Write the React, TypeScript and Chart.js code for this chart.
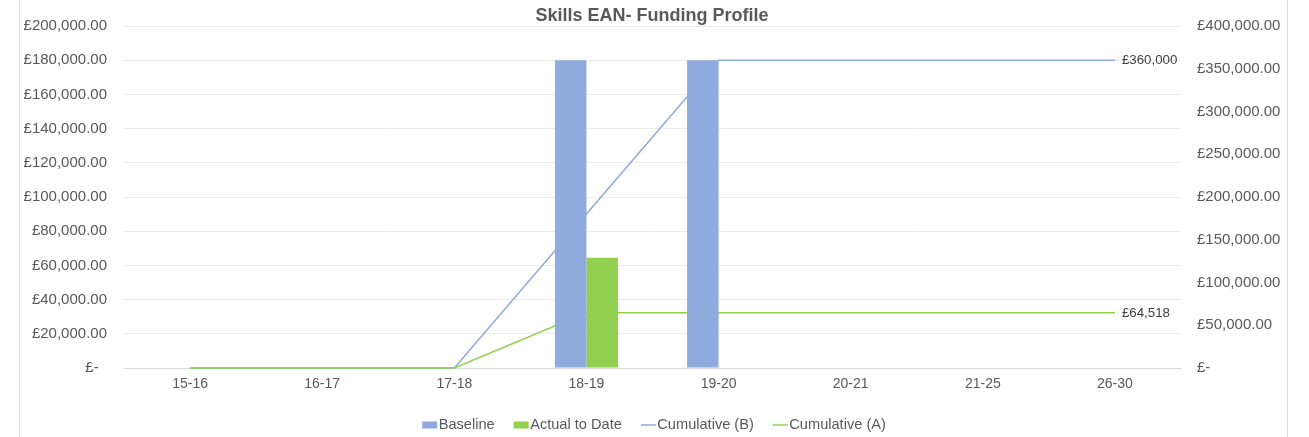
import React, { useEffect, useRef } from "react";
import { Chart, registerables } from "chart.js";

Chart.register(...registerables);

const categories = ["15-16", "16-17", "17-18", "18-19", "19-20", "20-21", "21-25", "26-30"];
const baseline = [null, null, null, 180000, 180000, null, null, null];
const actualToDate = [null, null, null, 64518, null, null, null, null];
const cumulativeB = [0, 0, 0, 180000, 360000, 360000, 360000, 360000];
const cumulativeA = [0, 0, 0, 64518, 64518, 64518, 64518, 64518];
const endLabels = ["£360,000", "£64,518"];
const titleText = "Skills EAN- Funding Profile";

const BLUE = "#8FAADC";
const GREEN = "#92D050";
const TEXT = "#595959";
const FONT = "'Liberation Sans', Arial, sans-serif";

const fmt = (v: number) =>
  v === 0
    ? "£-  "
    : "£" + v.toLocaleString("en-GB", { minimumFractionDigits: 2, maximumFractionDigits: 2 });

const decorPlugin = {
  id: "decor",
  beforeDraw(chart: any) {
    const { ctx, width, height } = chart;
    ctx.save();
    ctx.fillStyle = "#ffffff";
    ctx.fillRect(0, 0, width, height);
    ctx.strokeStyle = "#d9d9d9";
    ctx.lineWidth = 1;
    ctx.strokeRect(19.5, -1, 1268, height + 2);
    ctx.restore();
  },
  afterDraw(chart: any) {
    const { ctx } = chart;
    ctx.save();
    // title
    ctx.font = `bold 18px ${FONT}`;
    ctx.fillStyle = TEXT;
    ctx.textAlign = "center";
    ctx.textBaseline = "alphabetic";
    ctx.fillText(titleText, 652, 21);

    // end labels for line datasets
    ctx.font = `13.3px ${FONT}`;
    ctx.fillStyle = "#404040";
    ctx.textAlign = "left";
    ctx.textBaseline = "middle";
    [2, 3].forEach((di, k) => {
      const meta = chart.getDatasetMeta(di);
      const pt = meta.data[meta.data.length - 1];
      if (pt) ctx.fillText(endLabels[k], pt.x + 7, pt.y);
    });

    // legend
    ctx.font = `14.6px ${FONT}`;
    ctx.textBaseline = "middle";
    const items = chart.data.datasets.map((d: any) => ({
      label: d.label,
      color: d.borderColor,
      kind: d.type === "line" ? "line" : "box",
    }));
    const boxW = 15;
    const gap = 1.5;
    const spacing = 19;
    const widths = items.map((it: any) => boxW + gap + ctx.measureText(it.label).width);
    const total = widths.reduce((a: number, b: number) => a + b, 0) + spacing * (items.length - 1);
    let x = 654 - total / 2;
    const y = 425;
    items.forEach((it: any, i: number) => {
      if (it.kind === "box") {
        ctx.fillStyle = it.color;
        ctx.fillRect(x, y - 3.5, boxW, 7);
      } else {
        ctx.strokeStyle = it.color;
        ctx.lineWidth = 1.5;
        ctx.beginPath();
        ctx.moveTo(x, y);
        ctx.lineTo(x + boxW, y);
        ctx.stroke();
      }
      ctx.fillStyle = TEXT;
      ctx.fillText(it.label, x + boxW + gap, y);
      x += widths[i] + spacing;
    });
    ctx.restore();
  },
};

export default function App() {
  const ref = useRef<HTMLCanvasElement | null>(null);

  useEffect(() => {
    if (!ref.current) return;
    Chart.defaults.font.family = FONT;
    const chart = new Chart(ref.current, {
      type: "bar",
      data: {
        labels: categories,
        datasets: [
          {
            type: "bar",
            label: "Baseline",
            data: baseline,
            backgroundColor: BLUE,
            borderColor: BLUE,
            yAxisID: "y",
            order: 0,
            barPercentage: 1,
            categoryPercentage: 0.477,
          },
          {
            type: "bar",
            label: "Actual to Date",
            data: actualToDate,
            backgroundColor: GREEN,
            borderColor: GREEN,
            yAxisID: "y",
            order: 0,
            barPercentage: 1,
            categoryPercentage: 0.477,
          },
          {
            type: "line",
            label: "Cumulative (B)",
            data: cumulativeB,
            borderColor: BLUE,
            backgroundColor: BLUE,
            borderWidth: 1.5,
            pointRadius: 0,
            tension: 0,
            clip: false,
            yAxisID: "y1",
            order: 2,
          },
          {
            type: "line",
            label: "Cumulative (A)",
            data: cumulativeA,
            borderColor: GREEN,
            backgroundColor: GREEN,
            borderWidth: 1.5,
            pointRadius: 0,
            tension: 0,
            clip: false,
            yAxisID: "y1",
            order: 1,
          },
        ] as any,
      },
      options: {
        responsive: false,
        animation: false,
        layout: { padding: { left: 0, right: 0, top: 24, bottom: 0 } },
        plugins: {
          legend: { display: false },
          title: { display: false },
          tooltip: { enabled: false },
        },
        scales: {
          x: {
            offset: true,
            grid: { display: false, drawTicks: false },
            border: { display: true, color: "#d9d9d9", width: 1 },
            ticks: { color: TEXT, font: { size: 14 }, padding: 8, maxRotation: 0 },
            afterFit: (s: any) => {
              s.height = 69;
            },
          },
          y: {
            position: "left",
            min: 0,
            max: 200000,
            grid: { color: "#ececec", drawTicks: false },
            border: { display: false },
            ticks: { stepSize: 20000, color: TEXT, font: { size: 15 }, padding: 17, callback: (v: any) => fmt(Number(v)) },
            afterFit: (s: any) => {
              s.width = 124;
            },
          },
          y1: {
            position: "right",
            min: 0,
            max: 400000,
            grid: { display: false, drawTicks: false },
            border: { display: false },
            ticks: { stepSize: 50000, color: TEXT, font: { size: 15 }, padding: 16, callback: (v: any) => fmt(Number(v)) },
            afterFit: (s: any) => {
              s.width = 128;
            },
          },
        },
      },
      plugins: [decorPlugin],
    });
    return () => chart.destroy();
  }, []);

  return (
    <div style={{ position: "absolute", left: 0, top: 0, width: 1309, height: 437 }}>
      <canvas ref={ref} width={1309} height={437} style={{ display: "block", width: 1309, height: 437 }} />
    </div>
  );
}
